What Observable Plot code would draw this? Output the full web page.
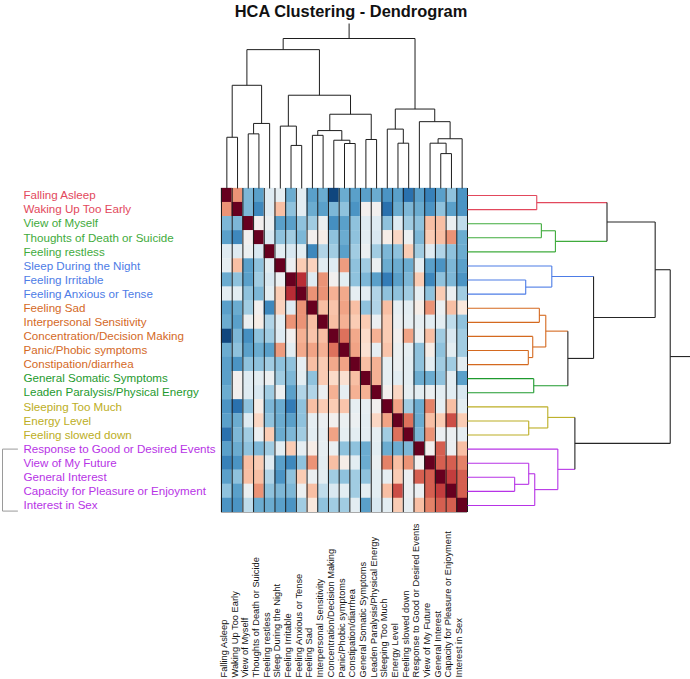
<!DOCTYPE html>
<html><head><meta charset="utf-8">
<script src="https://cdn.jsdelivr.net/npm/d3@7"></script>
<script src="https://cdn.jsdelivr.net/npm/@observablehq/plot@0.6"></script>
<style>
body{margin:0;background:#fff;}
#wrap{position:relative;width:690px;height:679px;font-family:"Liberation Sans",Arial,sans-serif;overflow:hidden;}
#wrap svg{position:absolute;left:0;top:0;}
#title{position:absolute;left:6px;top:1px;width:690px;text-align:center;font-weight:bold;font-size:16.4px;line-height:20px;color:#111;}
</style></head>
<body><div id="wrap"><div id="title">HCA Clustering - Dendrogram</div></div>
<script>
const labels = ["Falling Asleep","Waking Up Too Early","View of Myself","Thoughts of Death or Suicide","Feeling restless","Sleep During the Night","Feeling Irritable","Feeling Anxious or Tense","Feeling Sad","Interpersonal Sensitivity","Concentration/Decision Making","Panic/Phobic symptoms","Constipation/diarrhea","General Somatic Symptoms","Leaden Paralysis/Physical Energy","Sleeping Too Much","Energy Level","Feeling slowed down","Response to Good or Desired Events","View of My Future","General Interest","Capacity for Pleasure or Enjoyment","Interest in Sex"];

const leafCluster = ["C1","C1","C2","C2","C2","C3","C3","C3","C4","C4","C4","C4","C4","C5","C5","C6","C6","C6","C7","C7","C7","C7","C7"];

const clusterColors = {C1:"#e2485c", C2:"#3fab3c", C3:"#4d7ce6", C4:"#d4691f", C5:"#1e9a2e", C6:"#bcae24", C7:"#b733e6", above:"#262626"};

// upper triangle of correlation matrix, row i holds values for columns i+1..22
const upperTriangle = [
 [0.45,-0.45,-0.55,-0.12,-0.08,-0.5,-0.1,-0.55,-0.5,-0.92,-0.5,-0.55,-0.55,-0.5,-0.6,-0.55,-0.75,-0.55,-0.68,-0.55,-0.4,-0.6],
 [-0.45,-0.65,-0.12,0.3,-0.4,-0.1,-0.5,-0.55,-0.45,-0.4,-0.6,0.0,0.0,-0.75,-0.5,-0.45,-0.5,-0.6,-0.4,-0.55,-0.6],
 [0.0,-0.05,-0.55,-0.55,-0.4,-0.35,-0.05,-0.62,-0.55,-0.4,-0.12,-0.12,-0.4,-0.12,-0.35,-0.4,0.3,0.3,-0.05,-0.25],
 [-0.15,-0.4,-0.35,-0.45,0.0,0.05,-0.4,-0.5,-0.4,-0.1,-0.15,0.05,0.2,-0.05,-0.45,0.25,0.3,0.45,-0.5],
 [-0.1,-0.15,-0.1,-0.65,-0.3,-0.35,-0.55,-0.35,-0.05,-0.35,-0.45,-0.4,0.25,-0.35,-0.12,-0.3,-0.4,-0.5],
 [-0.05,0.25,0.22,-0.1,-0.12,0.42,-0.4,-0.35,-0.05,-0.5,-0.5,-0.5,-0.1,-0.55,-0.6,-0.45,-0.55],
 [0.75,-0.12,0.45,0.0,-0.1,-0.4,-0.45,-0.55,-0.7,-0.55,-0.45,0.25,-0.65,-0.4,-0.45,-0.6],
 [0.45,0.45,0.35,0.38,-0.08,-0.1,-0.3,-0.4,-0.4,-0.35,-0.08,-0.4,0.25,-0.05,-0.35],
 [0.3,0.28,0.4,0.3,-0.4,-0.3,0.3,-0.08,-0.1,0.05,0.45,-0.05,0.3,0.1],
 [0.3,0.35,0.25,0.25,-0.05,0.25,-0.05,-0.08,-0.08,-0.1,-0.1,-0.25,-0.4],
 [0.55,0.38,0.18,0.35,0.25,0.0,0.4,-0.05,0.3,-0.35,-0.15,-0.35],
 [0.4,0.15,-0.08,0.28,-0.05,-0.08,-0.4,0.05,-0.4,-0.1,-0.35],
 [0.3,0.35,-0.08,-0.05,-0.1,-0.4,-0.1,-0.35,-0.35,-0.1],
 [0.35,-0.08,-0.1,-0.1,-0.5,-0.5,-0.4,-0.1,-0.55],
 [0.0,0.2,-0.08,-0.1,-0.05,-0.1,-0.1,-0.15],
 [0.4,-0.35,-0.5,0.5,-0.08,0.3,-0.1],
 [0.55,-0.5,0.3,0.25,0.65,0.25],
 [-0.45,0.45,-0.05,-0.05,-0.08],
 [0.0,0.6,-0.05,0.3],
 [0.6,0.6,0.5],
 [0.7,0.6],
 [0.6]
];

// linkage: node ids < 23 are leaves, 23+k is merge k
const mergeLeft    = [0,2,24,23,6,5,8,11,10,29,13,32,28,26,16,15,20,19,40,18,38,36];
const mergeRight   = [1,3,4,25,7,27,9,12,30,31,14,33,34,35,17,37,21,39,22,41,42,43];
const mergeHeight  = [3.45,3.68,4.38,6.95,2.9,4.2,3.58,3.03,3.25,3.9,3.3,5.0,6.28,9.35,3.05,4.0,2.35,3.05,3.35,4.5,5.35,10.1];
const mergeCluster = ["C1","C2","C2","above","C3","C3","C4","C4","C4","C4","C5","above","above","above","C6","C6","C7","C7","C7","C7","above","above"];

const n = labels.length;
const cells = [];
for (let i = 0; i < n; i++) for (let j = 0; j < n; j++) {
  const v = i === j ? 1 : (i < j ? upperTriangle[i][j - i - 1] : upperTriangle[j][i - j - 1]);
  cells.push({i, j, v});
}

const nodePos = [], nodeH = [], nodeCl = [];
labels.forEach((_, i) => { nodePos[i] = i + 0.5; nodeH[i] = 0; nodeCl[i] = leafCluster[i]; });
const segs = [];
mergeLeft.forEach((a, k) => {
  const b = mergeRight[k], id = n + k, h = mergeHeight[k], cl = mergeCluster[k];
  nodePos[id] = (nodePos[a] + nodePos[b]) / 2; nodeH[id] = h; nodeCl[id] = cl;
  for (const c of [a, b]) segs.push({p1: nodePos[c], p2: nodePos[c], h1: nodeH[c], h2: h, cl: c < n ? cl : nodeCl[c]});
  segs.push({p1: nodePos[a], p2: nodePos[b], h1: h, h2: h, cl});
});
const root = n + mergeLeft.length - 1;
const hMax = nodeH[root] * 1.1;
segs.push({p1: nodePos[root], p2: nodePos[root], h1: nodeH[root], h2: hMax, cl: "above"});

const purple = leafCluster.map((c, i) => c === "C7" ? i : -1).filter(i => i >= 0);
const bracket = [
  {x: 1, y: purple[0] + 0.5}, {x: 0, y: purple[0] + 0.5},
  {x: 0, y: purple[purple.length - 1] + 0.9}, {x: 1, y: purple[purple.length - 1] + 0.9}
];

const baseStyle = {background: "transparent", overflow: "visible", fontFamily: "'Liberation Sans', Arial, sans-serif"};
const wrap = document.getElementById("wrap");

const heat = Plot.plot({
  width: 690, height: 679, marginLeft: 221, marginRight: 223, marginTop: 188, marginBottom: 167,
  style: baseStyle,
  x: {domain: [0, n], axis: null},
  y: {domain: [0, n], reverse: true, axis: null},
  color: {type: "linear", scheme: "RdBu", domain: [-1, 1], reverse: true},
  marks: [
    Plot.rect(cells, {x1: "j", x2: d => d.j + 1, y1: "i", y2: d => d.i + 1, fill: "v", inset: -0.15}),
    Plot.ruleY([n], {stroke: "#aaa", strokeWidth: 1}),
    Plot.ruleX(d3.range(n + 1), {y1: 0, y2: n, stroke: "#1c1c1c", strokeWidth: 1}),
    Plot.text(labels, {x: (d, i) => i + 0.5, frameAnchor: "bottom", rotate: -90, textAnchor: "start", dy: 165, fontSize: 9.3, fill: "#111"})
  ]
});

const topDendro = Plot.plot({
  width: 690, height: 188, marginLeft: 221, marginRight: 223, marginTop: 23, marginBottom: 0,
  style: baseStyle,
  x: {domain: [0, n], axis: null},
  y: {domain: [0, hMax], axis: null},
  marks: [Plot.link(segs, {x1: "p1", x2: "p2", y1: "h1", y2: "h2", stroke: "#1e1e1e", strokeWidth: 1})]
});

const rightDendro = Plot.plot({
  width: 690, height: 679, marginLeft: 467, marginRight: 0, marginTop: 188, marginBottom: 167,
  style: baseStyle,
  x: {domain: [0, hMax], axis: null},
  y: {domain: [0, n], reverse: true, axis: null},
  color: {type: "identity"},
  marks: [Plot.link(segs, {x1: "h1", x2: "h2", y1: "p1", y2: "p2", stroke: d => clusterColors[d.cl], strokeWidth: 1.1})]
});

const labelPlot = Plot.plot({
  width: 690, height: 679, marginLeft: 2, marginRight: 673, marginTop: 188, marginBottom: 167,
  style: baseStyle,
  x: {domain: [0, 1], axis: null},
  y: {domain: [0, n], reverse: true, axis: null},
  color: {type: "identity"},
  marks: [
    Plot.line(bracket, {x: "x", y: "y", stroke: "#9a9a9a", strokeWidth: 1}),
    Plot.text(labels, {y: (d, i) => i + 0.5, frameAnchor: "right", textAnchor: "start", dx: 6, fontSize: 11.6, fill: (d, i) => clusterColors[leafCluster[i]]})
  ]
});

wrap.appendChild(heat);
wrap.appendChild(topDendro);
wrap.appendChild(rightDendro);
wrap.appendChild(labelPlot);
</script>
</body></html>
